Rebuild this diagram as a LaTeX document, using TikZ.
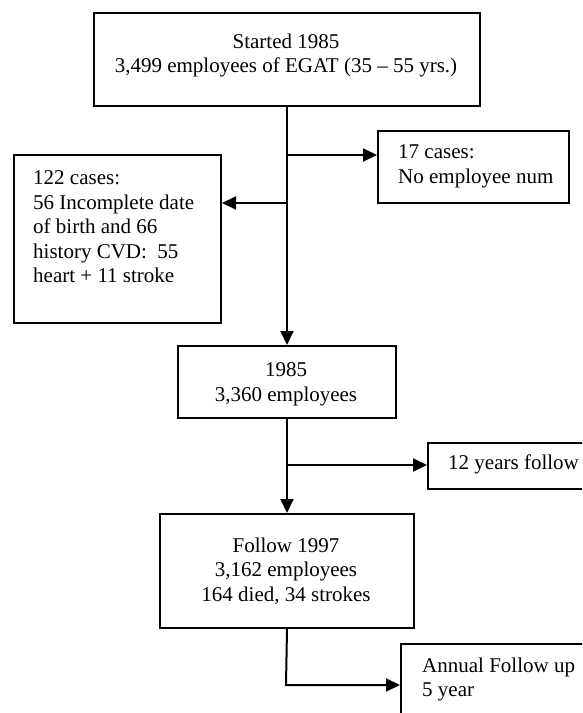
\documentclass[tikz,border=0pt]{standalone}
\usepackage{fontspec}
\setmainfont{Liberation Serif}
\usetikzlibrary{arrows.meta,calc}
\begin{document}
\begin{tikzpicture}[x=1pt,y=-1pt,
  box/.style={draw,line width=2pt,inner sep=0,anchor=north west},
  txt/.style={inner sep=0,font=\fontsize{21}{24.5}\selectfont},
  arr/.style={line width=2pt,-{Triangle[length=14pt,width=13pt]}}]
\useasboundingbox (0,0) rectangle (582,713);
\clip (0,0) rectangle (582,713);
% boxes
\node[box,minimum width=386pt,minimum height=93pt] (top) at (93,12) {};
\node[box,minimum width=191pt,minimum height=72pt] (c17) at (377,130) {};
\node[box,minimum width=207pt,minimum height=168pt] (left) at (13,154) {};
\node[box,minimum width=218pt,minimum height=72pt] (mid) at (177,345) {};
\node[box,minimum width=200pt,minimum height=46pt] (y12) at (427,442) {};
\node[box,minimum width=254pt,minimum height=114pt] (fol) at (159,513) {};
\node[box,minimum width=200pt,minimum height=100pt] (ann) at (400,643) {};
% texts
\node[txt,anchor=north,align=center] (toptxt) at (286,33.7) {Started 1985\\3,499 employees of EGAT (35 – 55 yrs.)};
\node[txt,anchor=north west,align=left] (c17txt) at (398,144.7) {17 cases:\\No employee num};
\node[txt,anchor=north west,align=left] (lefttxt) at (33,170.7) {122 cases:\\56 Incomplete date\\of birth and 66\\history CVD:\ \ 55\\heart + 11 stroke};
\node[txt,anchor=north,align=center] (midtxt) at (286,362.7) {1985\\3,360 employees};
\node[txt,anchor=north west,align=left] (y12txt) at (448,454.7) {12 years follow};
\node[txt,anchor=north,align=center] (foltxt) at (286,537.7) {Follow 1997\\3,162 employees\\164 died, 34 strokes};
\node[txt,anchor=north west,align=left] (anntxt) at (422,657.7) {Annual Follow up\\5 year};
% connectors
\draw[arr] (top.south) -- (mid.north);
\coordinate (b1) at (286,155);
\draw[arr] (b1) -- (b1 -| c17.west);
\coordinate (b2) at (286,203);
\draw[arr] (b2) -- (b2 -| left.east);
\draw[arr] (mid.south) -- (fol.north);
\coordinate (b3) at (286,465);
\draw[arr] (b3) -- (b3 -| y12.west);
\coordinate (b4) at (286,685);
\draw[arr] (fol.south) -- (b4) -- (b4 -| ann.west);
\end{tikzpicture}
\end{document}
